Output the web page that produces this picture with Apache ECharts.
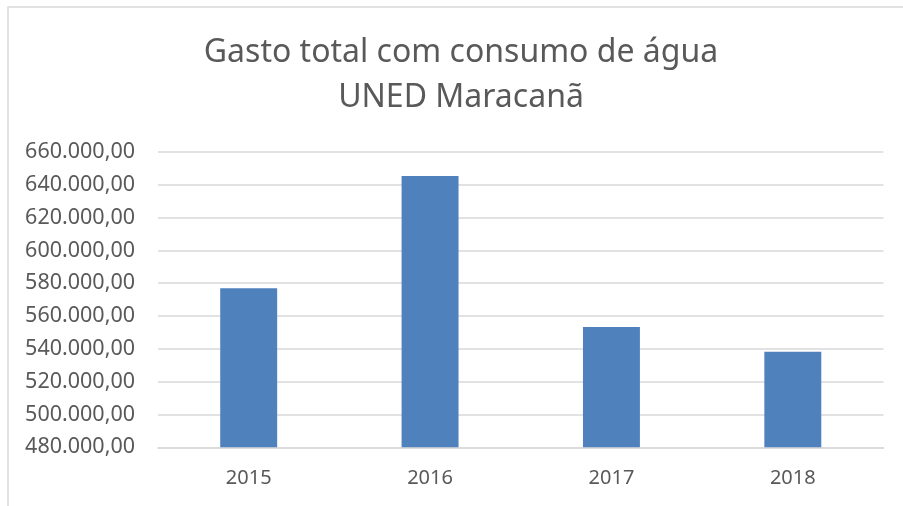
<!DOCTYPE html>
<html>
<head>
<meta charset="utf-8">
<script src="https://cdn.jsdelivr.net/npm/echarts@6/dist/echarts.min.js"></script>
<style>
html,body{margin:0;padding:0;background:#fff;}
#chart{width:903px;height:506px;}
</style>
</head>
<body>
<div id="chart"></div>
<script>
const titleLines = ['Gasto total com consumo de água', 'UNED Maracanã'];
const categories = ['2015', '2016', '2017', '2018'];
const values = [577000, 645300, 553300, 538200];
const yMin = 480000, yMax = 660000, yStep = 20000;

function fmt(v) {
  const s = Math.round(v).toString().replace(/\B(?=(\d{3})+(?!\d))/g, '.');
  return s + ',00';
}

const chart = echarts.init(document.getElementById('chart'));
chart.setOption({
  backgroundColor: '#fff',
  animation: false,
  textStyle: { fontFamily: 'Noto Sans' },
  graphic: [{
    type: 'rect',
    shape: { x: 8, y: 7, width: 1200, height: 1200 },
    style: { fill: 'none', stroke: '#d9d9d9', lineWidth: 1.5 },
    silent: true
  }],
  title: {
    text: titleLines.join('\n'),
    left: 456,
    textAlign: 'center',
    top: 25,
    textStyle: { fontFamily: 'Noto Sans', fontSize: 32, fontWeight: 'normal', color: '#595959', lineHeight: 45 }
  },
  grid: { left: 158, right: 19.5, top: 152, bottom: 58.7 },
  xAxis: {
    type: 'category',
    data: categories,
    axisLine: { show: true, lineStyle: { color: '#d9d9d9', width: 1.5 } },
    axisTick: { show: false },
    axisLabel: { color: '#595959', fontSize: 20, margin: 21, fontFamily: 'Noto Sans' }
  },
  yAxis: {
    type: 'value',
    min: yMin, max: yMax, interval: yStep,
    axisLine: { show: false },
    axisTick: { show: false },
    splitLine: { lineStyle: { color: '#d9d9d9', width: 1.5 } },
    axisLabel: { color: '#595959', fontSize: 21.5, margin: 23, fontFamily: 'Noto Sans', formatter: fmt }
  },
  series: [{
    type: 'bar',
    data: values,
    barWidth: '31.4%',
    itemStyle: { color: '#4f81bd' }
  }]
});
</script>
</body>
</html>
